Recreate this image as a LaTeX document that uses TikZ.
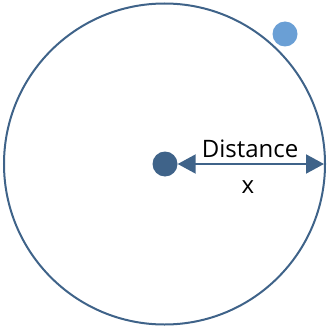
\documentclass[tikz,border=0pt]{standalone}
\usepackage{fontspec}
\setmainfont{Open Sans}
\usepackage{tikz}
\usetikzlibrary{arrows.meta, positioning}

\definecolor{orbitblue}{HTML}{3F6389}
\definecolor{lightblue}{HTML}{6A9FD5}

\tikzset{
    dot/.style={circle, fill=#1, inner sep=0pt, minimum size=25pt},
    lbl/.style={font=\fontsize{24}{27}\selectfont, inner sep=1pt},
}

\begin{document}
\begin{tikzpicture}[x=1pt, y=-1pt]
    \useasboundingbox (0,0) rectangle (326,331);

    % --- 轨道 ---
    \draw[orbitblue, line width=2pt] (164.5,164) circle (160.5);

    % 中心与卫星
    \node[dot=orbitblue] (center) at (165,164) {};
    \node[dot=lightblue] (sat) at (285,34) {};
    \coordinate (rim) at (324,164);

    % 距离箭头
    \draw[orbitblue, line width=2pt, {Triangle[length=18pt, width=19pt]}-{Triangle[length=18pt, width=19pt]}]
        (center.east) -- (rim);

    % 标注
    \node[lbl, anchor=base] (dist) at (250,157) {Distance};
    \node[lbl, anchor=base] (xlab) at (248,193) {x};
\end{tikzpicture}
\end{document}
